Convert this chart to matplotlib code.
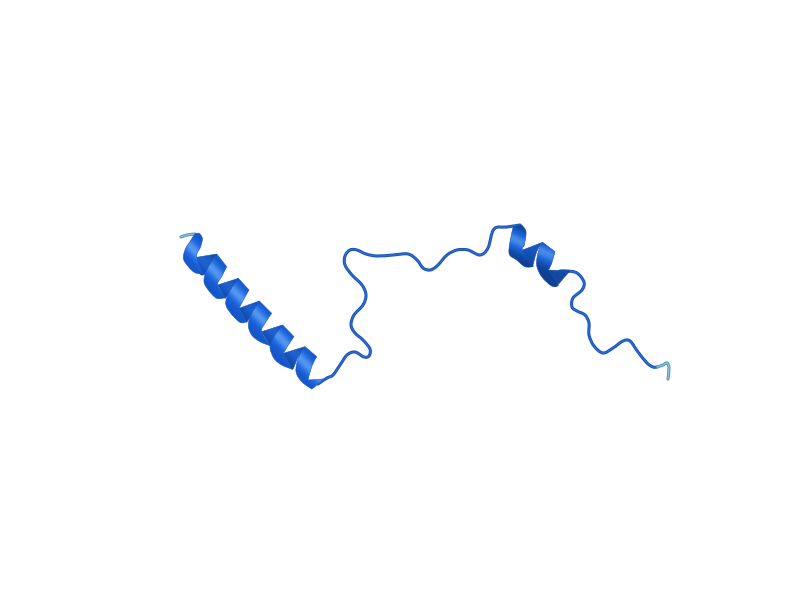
import numpy as np
import matplotlib
matplotlib.use("Agg")
import matplotlib.pyplot as plt
from matplotlib.path import Path
from matplotlib.patches import PathPatch
from matplotlib.colors import LinearSegmentedColormap

# all traces, in pixels
coil_a = [(318,384),(327,378),(333,375),(340,365),(347,355),(355,352),(364,357),(369,356),(370,349),
          (363,340),(355,333),(351,325),(354,315),(363,305),(366,295),(362,285),(352,275),(345,265),
          (345,256),(350,250),(357,250),(366,254),(377,256),(393,255),(408,254),(417,260),(423,268),(430,270),
          (437,266),(447,255),(457,250),(468,250),(480,255),(488,248),(494,229),(507,227),(520,225)]
coil_b = [(560,271),(567,271),(577,273),(584,282),(582,290),(573,298),(572,307),(577,311),(585,315),
          (589,323),(589,335),(594,346),(603,353),(613,348),(623,341),(630,341),(638,352),(647,363),
          (653,367),(657,367)]
tail_start = [(181,237),(187,235),(195,234)]
tail_end = [(657,367),(663,365),(667,363),(669,368),(668,379)]

# helix 1 ribbon outlines, crop coordinates (crop at 170,225 scale 3)
h1_back = [
    [(80,97),(140,87),(125,115),(103,148),(90,148)],
    [(143,180),(205,160),(190,185),(170,215),(165,220)],
    [(207,250),(268,228),(250,260),(235,285),(230,292)],
    [(275,320),(338,300),(315,335),(300,362)],
    [(340,385),(405,365),(385,395),(370,430),(365,432)],
]
h1_front = [
    [(75,27),(88,25),(97,40),(92,65),(80,95),(100,147),(75,143),(55,125),(40,100),(47,70),(60,50)],
    [(140,87),(170,125),(155,155),(143,180),(165,218),(140,220),(115,195),(102,170),(110,135)],
    [(205,160),(237,195),(220,225),(207,250),(230,290),(210,292),(180,262),(167,235),(178,200)],
    [(268,228),(305,265),(285,295),(275,320),(300,362),(270,350),(245,330),(235,300),(245,265)],
    [(338,300),(372,335),(355,360),(340,385),(365,432),(335,420),(312,400),(300,365),(315,330)],
    [(405,365),(440,395),(425,425),(414,465),(460,462),(435,485),(425,492),(395,470),(378,440),(385,400)],
]
# helix 2 outlines, crop at 340,215 scale 3
h2_back = [
    [(548,105),(608,82),(590,110),(578,155),(555,155)],
    [(625,165),(690,168),(670,190),(650,213),(640,213)],
]
h2_front = [
    [(520,35),(545,30),(558,50),(553,90),(548,105),(580,155),(555,155),(530,135),(508,118),(510,80)],
    [(608,82),(645,110),(635,145),(625,165),(655,212),(635,213),(605,185),(590,150),(595,110)],
]


def crop(pts, x0, y0):
    return [(x0 + a / 3, y0 + b / 3) for a, b in pts]


def smooth(pts):
    # catmull rom through the read points
    p = np.array(pts, dtype=float)
    verts = [p[0]]
    codes = [Path.MOVETO]
    for i in range(len(p) - 1):
        a = p[max(i - 1, 0)]
        b = p[i]
        c = p[i + 1]
        d = p[min(i + 2, len(p) - 1)]
        verts += [b + (c - a) / 6, c - (d - b) / 6, c]
        codes += [Path.CURVE4] * 3
    return Path(verts, codes)


def outline(pts):
    # closed curve, sharp where the outline really turns
    p = np.array(pts, dtype=float)
    n = len(p)
    tang = []
    for i in range(n):
        u = p[i] - p[i - 1]
        v = p[(i + 1) % n] - p[i]
        cos = np.dot(u, v) / (np.hypot(*u) * np.hypot(*v))
        tang.append((v + u) / 6 if cos > 0.55 else np.zeros(2))
    verts = [p[0]]
    codes = [Path.MOVETO]
    for i in range(n):
        j = (i + 1) % n
        verts += [p[i] + tang[i], p[j] - tang[j], p[j]]
        codes += [Path.CURVE4] * 3
    return Path(verts, codes)


def coil(ax, pts, dark, light):
    ax.add_patch(PathPatch(smooth(pts), fill=False, ec=dark, lw=2.2, capstyle="round", zorder=2))
    ax.add_patch(PathPatch(smooth(pts), fill=False, ec=light, lw=0.9, capstyle="round", zorder=2.1))


def shade(p0, p1, width):
    # brightness falls off away from the helix axis
    yy, xx = np.mgrid[0:600, 0:800]
    dx, dy = p1[0] - p0[0], p1[1] - p0[1]
    n = np.hypot(dx, dy)
    d = ((xx - p0[0]) * dy - (yy - p0[1]) * dx) / n
    return np.exp(-(d / width) ** 2)


def band(ax, pts, img, cmap, vmin, vmax, z, edge):
    shape = outline(pts)
    patch = PathPatch(shape, fc="none", ec="none", zorder=z)
    ax.add_patch(patch)
    im = ax.imshow(img, cmap=cmap, vmin=vmin, vmax=vmax, extent=(-0.5, 799.5, 599.5, -0.5),
                   interpolation="bilinear", zorder=z)
    im.set_clip_path(patch)
    ax.add_patch(PathPatch(shape, fc="none", ec=edge, lw=0.4, zorder=z + 0.01))


front_map = LinearSegmentedColormap.from_list("front", ["#1557c8", "#1a60da", "#2a75e6", "#5596ee"])
back_map = LinearSegmentedColormap.from_list("back", ["#13499f", "#1655bf", "#1e62d0"])
front_dark = LinearSegmentedColormap.from_list("frontd", ["#0f3f94", "#1758c4", "#1f68dc", "#478be8"])

fig = plt.figure(figsize=(8, 6), dpi=100, facecolor="white")
ax = fig.add_axes([0, 0, 1, 1])

coil(ax, coil_a, "#1b50ae", "#2a6edb")
coil(ax, coil_b, "#1b50ae", "#2a6edb")
coil(ax, tail_start, "#4f8fb5", "#8cc6dc")
coil(ax, tail_end, "#4f8fb5", "#8cc6dc")

img1 = shade((193, 250), (313, 372), 8)
for pts in h1_back:
    band(ax, crop(pts, 170, 225), img1, back_map, 0, 1, 3, "#1550b4")
for pts in h1_front:
    band(ax, crop(pts, 170, 225), img1, front_map, 0, 1, 4, "#1a57bd")

img2 = shade((518, 242), (548, 255), 9)
for pts in h2_back:
    band(ax, crop(pts, 340, 215), img2, back_map, 0, 1.6, 3, "#134a9f")
for pts in h2_front:
    band(ax, crop(pts, 340, 215), img2, front_dark, 0, 1, 4, "#1550b4")

ax.set_xlim(0, 800)
ax.set_ylim(600, 0)
ax.axis("off")
fig.savefig("out.png", dpi=100)
